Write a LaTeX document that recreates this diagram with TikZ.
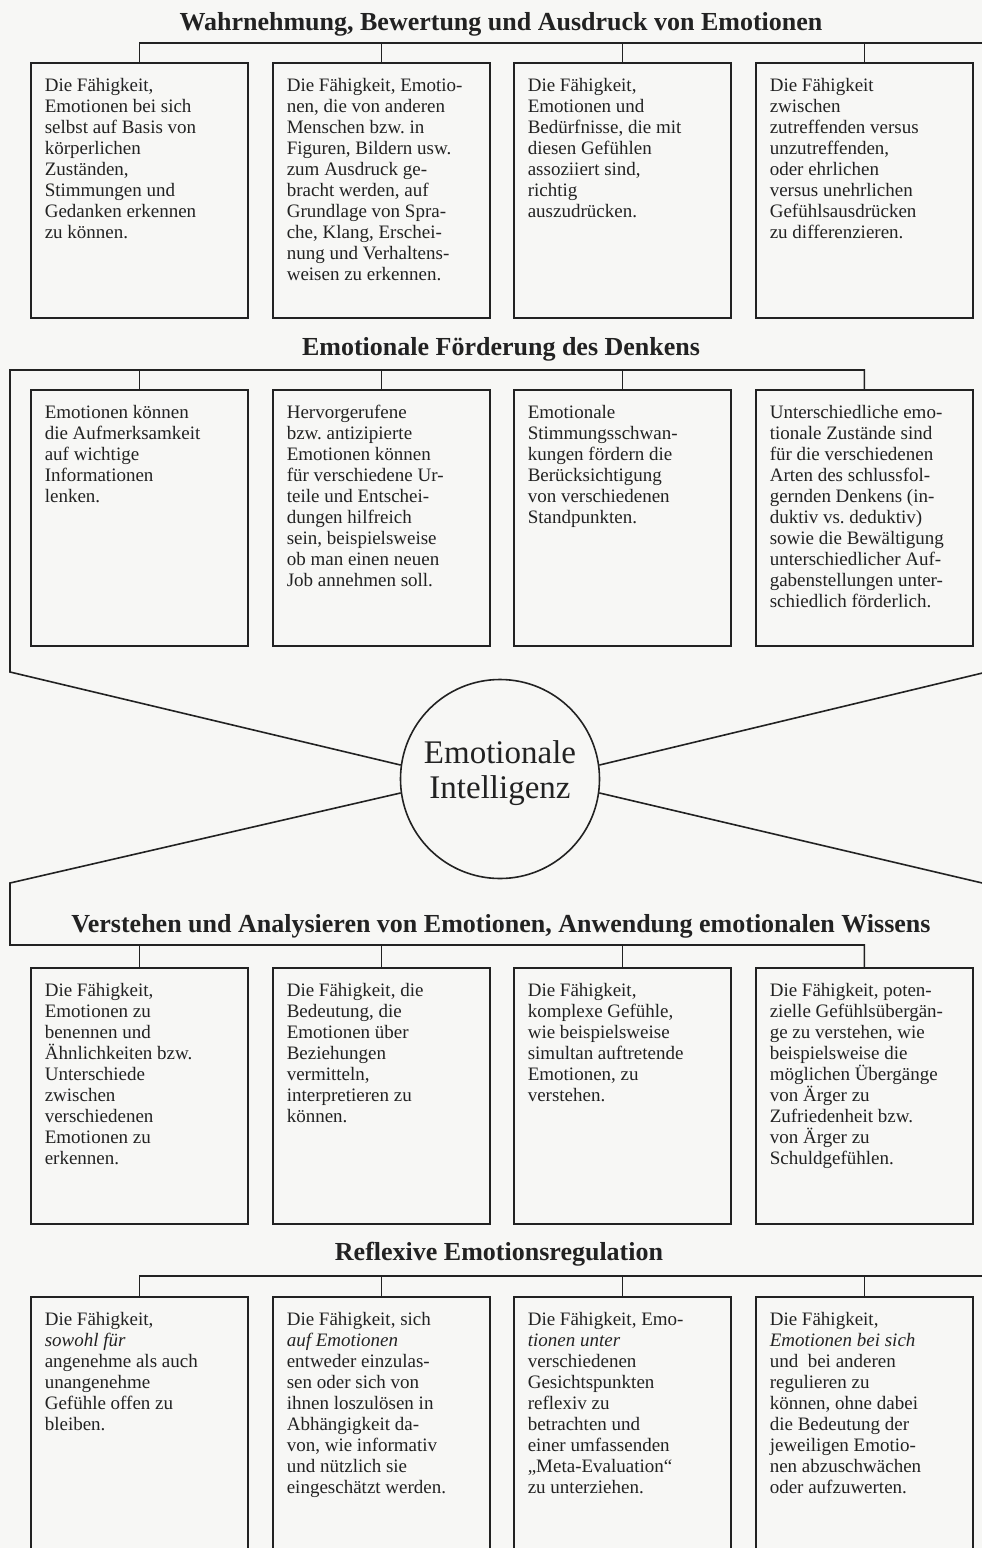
\documentclass[tikz,border=0pt]{standalone}
\usepackage{fontspec}
\setmainfont{Liberation Serif}
\frenchspacing
\definecolor{ink}{RGB}{34,34,34}
\definecolor{paper}{RGB}{247,247,245}
\newcommand\cardtxt[2]{\parbox[t][#1][t]{217pt}{\fontsize{19}{21}\selectfont\frenchspacing\color{ink}\leftskip=14pt\rightskip=0pt plus 1fil\parfillskip=0pt plus 1fil\hyphenpenalty=10000\exhyphenpenalty=10000\rule{0pt}{29pt}\ignorespaces#2}}
\tikzset{
  card/.style={draw=ink, line width=1.6pt, inner sep=0pt, anchor=north west, fill=paper},
  link/.style={draw=ink, line width=1.6pt},
  heading/.style={font=\fontsize{26}{30}\selectfont\bfseries, text=ink, anchor=base, inner sep=0pt},
}
\begin{document}
\begin{tikzpicture}[x=1pt,y=-1pt]
\useasboundingbox (0,0) rectangle (982,1548);
\clip (0,0) rectangle (982,1548);
\fill[paper] (0,0) rectangle (982,1548);

% headings
\node[heading] (h1) at (501,30) {Wahrnehmung, Bewertung und Ausdruck von Emotionen};
\node[heading] (h2) at (501,355) {Emotionale Förderung des Denkens};
\node[heading] (h3) at (501,932) {Verstehen und Analysieren von Emotionen, Anwendung emotionalen Wissens};
\node[heading] (h4) at (499,1260) {Reflexive Emotionsregulation};

% row 1
\node[card] (b11) at (30,62) {\cardtxt{255pt}{Die Fähigkeit,\\ Emotionen bei sich\\ selbst auf Basis von\\ körperlichen\\ Zuständen,\\ Stimmungen und\\ Gedanken erkennen\\ zu können.}};
\node[card] (b12) at (272,62) {\cardtxt{255pt}{Die Fähigkeit, Emotio-\\ nen, die von anderen\\ Menschen bzw. in\\ Figuren, Bildern usw.\\ zum Ausdruck ge-\\ bracht werden, auf\\ Grundlage von Spra-\\ che, Klang, Erschei-\\ nung und Verhaltens-\\ weisen zu erkennen.}};
\node[card] (b13) at (513,62) {\cardtxt{255pt}{Die Fähigkeit,\\ Emotionen und\\ Bedürfnisse, die mit\\ diesen Gefühlen\\ assoziiert sind,\\ richtig\\ auszudrücken.}};
\node[card] (b14) at (755,62) {\cardtxt{255pt}{Die Fähigkeit\\ zwischen\\ zutreffenden versus\\ unzutreffenden,\\ oder ehrlichen\\ versus unehrlichen\\ Gefühlsausdrücken\\ zu differenzieren.}};

% row 2
\node[card] (b21) at (30,389) {\cardtxt{256pt}{Emotionen können\\ die Aufmerksamkeit\\ auf wichtige\\ Informationen\\ lenken.}};
\node[card] (b22) at (272,389) {\cardtxt{256pt}{Hervorgerufene\\ bzw. antizipierte\\ Emotionen können\\ für verschiedene Ur-\\ teile und Entschei-\\ dungen hilfreich\\ sein, beispielsweise\\ ob man einen neuen\\ Job annehmen soll.}};
\node[card] (b23) at (513,389) {\cardtxt{256pt}{Emotionale\\ Stimmungsschwan-\\ kungen fördern die\\ Berücksichtigung\\ von verschiedenen\\ Standpunkten.}};
\node[card] (b24) at (755,389) {\cardtxt{256pt}{Unterschiedliche emo-\\ tionale Zustände sind\\ für die verschiedenen\\ Arten des schlussfol-\\ gernden Denkens (in-\\ duktiv vs. deduktiv)\\ sowie die Bewältigung\\ unterschiedlicher Auf-\\ gabenstellungen unter-\\ schiedlich förderlich.}};

% centre
\node[draw=ink, line width=1.6pt, circle, minimum size=199pt, inner sep=0pt] (c) at (500,779) {};
\node[font=\fontsize{33}{35}\selectfont, align=center, text=ink, inner sep=0pt] (ct) at (500,773) {Emotionale\\Intelligenz};

% row 3
\node[card] (b31) at (30,967) {\cardtxt{256pt}{Die Fähigkeit,\\ Emotionen zu\\ benennen und\\ Ähnlichkeiten bzw.\\ Unterschiede\\ zwischen\\ verschiedenen\\ Emotionen zu\\ erkennen.}};
\node[card] (b32) at (272,967) {\cardtxt{256pt}{Die Fähigkeit, die\\ Bedeutung, die\\ Emotionen über\\ Beziehungen\\ vermitteln,\\ interpretieren zu\\ können.}};
\node[card] (b33) at (513,967) {\cardtxt{256pt}{Die Fähigkeit,\\ komplexe Gefühle,\\ wie beispielsweise\\ simultan auftretende\\ Emotionen, zu\\ verstehen.}};
\node[card] (b34) at (755,967) {\cardtxt{256pt}{Die Fähigkeit, poten-\\ zielle Gefühlsübergän-\\ ge zu verstehen, wie\\ beispielsweise die\\ möglichen Übergänge\\ von Ärger zu\\ Zufriedenheit bzw.\\ von Ärger zu\\ Schuldgefühlen.}};

% row 4
\node[card] (b41) at (30,1296) {\cardtxt{290pt}{Die Fähigkeit,\\ \textit{sowohl für}\\ angenehme als auch\\ unangenehme\\ Gefühle offen zu\\ bleiben.}};
\node[card] (b42) at (272,1296) {\cardtxt{290pt}{Die Fähigkeit, sich\\ \textit{auf Emotionen}\\ entweder einzulas-\\ sen oder sich von\\ ihnen loszulösen in\\ Abhängigkeit da-\\ von, wie informativ\\ und nützlich sie\\ eingeschätzt werden.}};
\node[card] (b43) at (513,1296) {\cardtxt{290pt}{Die Fähigkeit, Emo-\\ \textit{tionen unter}\\ verschiedenen\\ Gesichtspunkten\\ reflexiv zu\\ betrachten und\\ einer umfassenden\\ „Meta-Evaluation“\\ zu unterziehen.}};
\node[card] (b44) at (755,1296) {\cardtxt{290pt}{Die Fähigkeit,\\ \textit{Emotionen bei sich}\\ und\ \ bei anderen\\ regulieren zu\\ können, ohne dabei\\ die Bedeutung der\\ jeweiligen Emotio-\\ nen abzuschwächen\\ oder aufzuwerten.}};

% connector coordinates
\coordinate (r1) at (995,43);
\coordinate (l2) at (10,370);
\coordinate (l2b) at (10,672);
\coordinate (l3a) at (10,883);
\coordinate (l3b) at (10,945);
\coordinate (r4) at (995,1276);
\coordinate (ra) at (995,670);
\coordinate (rb) at (995,886);

% connectors
\draw[link] (b11.north) |- (r1);
\foreach \b in {b12,b13,b14} \draw[link] (\b.north) -- (\b.north |- r1);
\draw[link] (b24.north) |- (l2) -- (l2b) -- (c.172);
\foreach \b in {b21,b22,b23} \draw[link] (\b.north) -- (\b.north |- l2);
\draw[link] (c.188) -- (l3a) -- (l3b) -| (b34.north);
\foreach \b in {b31,b32,b33} \draw[link] (\b.north) -- (\b.north |- l3b);
\draw[link] (b41.north) |- (r4);
\foreach \b in {b42,b43,b44} \draw[link] (\b.north) -- (\b.north |- r4);
\draw[link] (c.8) -- (ra);
\draw[link] (c.352) -- (rb);
\end{tikzpicture}
\end{document}
